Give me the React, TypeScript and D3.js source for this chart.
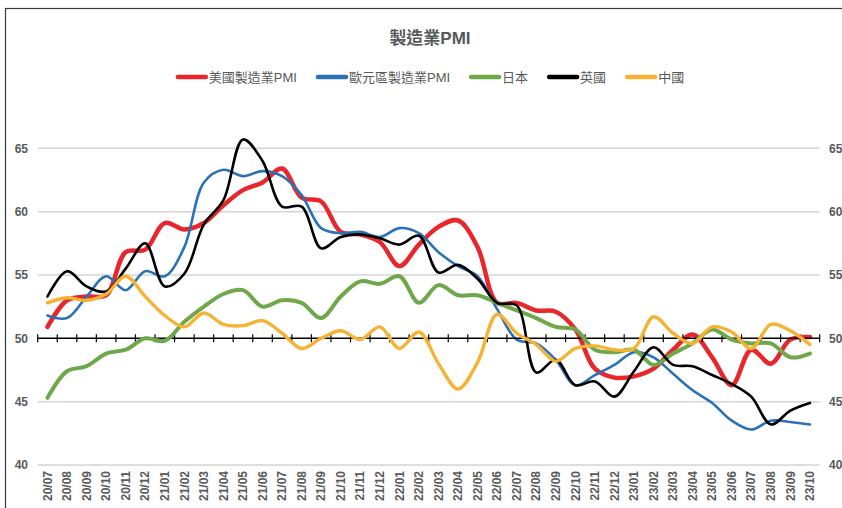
import { useEffect, useRef } from 'react';
import * as d3 from 'd3';

// month labels on the x axis
const months = [
	'20/07', '20/08', '20/09', '20/10', '20/11', '20/12',
	'21/01', '21/02', '21/03', '21/04', '21/05', '21/06', '21/07', '21/08', '21/09', '21/10', '21/11', '21/12',
	'22/01', '22/02', '22/03', '22/04', '22/05', '22/06', '22/07', '22/08', '22/09', '22/10', '22/11', '22/12',
	'23/01', '23/02', '23/03', '23/04', '23/05', '23/06', '23/07', '23/08', '23/09', '23/10'
];

const usPmi = [
	50.9, 53.0, 53.3, 53.4, 56.8, 57.0, 59.1, 58.6, 59.1, 60.5, 61.7, 62.3, 63.4, 61.1, 60.8, 58.4, 58.2, 57.6, 55.7, 57.4,
	58.8, 59.3, 57.2, 52.8, 52.8, 52.2, 52.1, 50.7, 47.6, 46.9, 47.0, 47.6, 49.1, 50.3, 48.5, 46.3, 49.1, 48.0, 49.9, 50.1
];
const euroPmi = [
	51.8, 51.6, 53.3, 54.9, 53.8, 55.3, 54.9, 57.2, 62.3, 63.3, 62.8, 63.2, 62.8, 61.3, 58.7, 58.3, 58.4, 58.0, 58.7, 58.3,
	56.8, 55.7, 54.9, 52.3, 49.9, 49.6, 48.3, 46.3, 47.1, 47.9, 48.9, 48.5, 47.2, 45.9, 44.9, 43.5, 42.8, 43.5, 43.4, 43.2
];
const japanPmi = [
	45.3, 47.4, 47.8, 48.8, 49.1, 50.0, 49.8, 51.3, 52.5, 53.5, 53.8, 52.5, 53.0, 52.8, 51.6, 53.3, 54.5, 54.3, 54.9, 52.8,
	54.2, 53.4, 53.4, 52.8, 52.2, 51.6, 50.9, 50.7, 49.1, 48.9, 49.1, 47.9, 48.8, 49.6, 50.7, 49.9, 49.6, 49.6, 48.5, 48.8
];
const ukPmi = [
	53.3, 55.3, 54.1, 53.7, 55.5, 57.5, 54.1, 55.1, 59.0, 60.9, 65.7, 64.0, 60.4, 60.4, 57.1, 58.0, 58.2, 57.9, 57.4, 58.1,
	55.2, 55.8, 54.7, 52.8, 52.6, 47.3, 48.3, 46.3, 46.6, 45.4, 47.4, 49.3, 47.9, 47.8, 47.1, 46.4, 45.4, 43.2, 44.3, 44.9
];
const chinaPmi = [
	52.8, 53.2, 53.0, 53.5, 54.9, 53.3, 51.8, 50.9, 52.0, 51.1, 51.0, 51.4, 50.4, 49.2, 50.0, 50.6, 49.9, 50.9, 49.2, 50.5,
	48.0, 46.0, 48.1, 51.9, 50.4, 49.5, 48.2, 49.2, 49.4, 49.1, 49.2, 51.7, 50.4, 49.6, 50.9, 50.5, 49.2, 51.1, 50.6, 49.5
];

const yTicks = [40, 45, 50, 55, 60, 65];

const seriesList = [
	{ name: '美國製造業PMI', values: usPmi, color: '#E8262B', width: 4.5 },
	{ name: '歐元區製造業PMI', values: euroPmi, color: '#2A72B8', width: 2.6 },
	{ name: '日本', values: japanPmi, color: '#6FA84A', width: 4 },
	{ name: '英國', values: ukPmi, color: '#000000', width: 2.6 },
	{ name: '中國', values: chinaPmi, color: '#F5B335', width: 3.4 }
];

const FONT = '"Liberation Sans", Arial, "Noto Sans CJK TC", sans-serif';
const GREY = '#595959';

export default function App() {
	const svgRef = useRef<SVGSVGElement>(null);

	useEffect(() => {
		const svg = d3.select(svgRef.current);
		svg.selectAll('*').remove();

		const width = 842;
		const height = 508;
		const plotLeft = 37.7;
		const plotRight = 819.7;

		svg.attr('width', width).attr('height', height).attr('font-family', FONT);

		svg.append('rect').attr('width', width).attr('height', height).attr('fill', '#fff');
		// chart frame (cut off at right / bottom)
		svg.append('rect')
			.attr('x', 5.5)
			.attr('y', 8.5)
			.attr('width', 880)
			.attr('height', 560)
			.attr('fill', 'none')
			.attr('stroke', '#3a3a3a')
			.attr('stroke-width', 1.2);

		const x = d3.scaleBand<string>().domain(months).range([plotLeft, plotRight]).paddingInner(0).paddingOuter(0);
		const y = d3.scaleLinear().domain([40, 65]).range([465, 148.3]);
		const cx = (m: string) => (x(m) ?? 0) + x.bandwidth() / 2;

		// gridlines
		svg.append('g')
			.selectAll('line')
			.data(yTicks.filter((t) => t !== 50))
			.join('line')
			.attr('x1', plotLeft)
			.attr('x2', plotRight)
			.attr('y1', (d) => y(d))
			.attr('y2', (d) => y(d))
			.attr('stroke', '#d4d4d4')
			.attr('stroke-width', 1.5);

		// y labels both sides
		const yLab = svg.append('g').attr('font-size', 12).attr('font-weight', 'bold').attr('fill', GREY);
		yLab.selectAll('text.l')
			.data(yTicks)
			.join('text')
			.attr('class', 'l')
			.attr('x', 28)
			.attr('y', (d) => y(d))
			.attr('dy', '0.35em')
			.attr('text-anchor', 'end')
			.text((d) => d);
		yLab.selectAll('text.r')
			.data(yTicks)
			.join('text')
			.attr('class', 'r')
			.attr('x', 829)
			.attr('y', (d) => y(d))
			.attr('dy', '0.35em')
			.attr('text-anchor', 'start')
			.text((d) => d);

		// x labels, rotated
		svg.append('g')
			.selectAll('text')
			.data(months)
			.join('text')
			.attr('transform', (d) => `translate(${cx(d)},471) rotate(-90)`)
			.attr('dy', '0.35em')
			.attr('text-anchor', 'end')
			.attr('font-size', 12)
			.attr('font-weight', 'bold')
			.attr('fill', GREY)
			.text((d) => d);

		// series lines
		const line = d3.line<number>()
			.x((_, i) => cx(months[i]))
			.y((d) => y(d))
			.curve(d3.curveCatmullRom.alpha(0.5));

		const axisY = y(50);

		seriesList.forEach((s, idx) => {
			svg.append('path')
				.datum(s.values)
				.attr('d', line)
				.attr('fill', 'none')
				.attr('stroke', s.color)
				.attr('stroke-width', s.width)
				.attr('stroke-linejoin', 'round')
				.attr('stroke-linecap', 'round');
			// axis at 50 sits between the green and black lines
			if (idx === 1) {
				const ax = svg.append('g');
				ax.append('line')
					.attr('x1', plotLeft)
					.attr('x2', plotRight)
					.attr('y1', axisY)
					.attr('y2', axisY)
					.attr('stroke', '#000')
					.attr('stroke-width', 1.5);
				const bounds = months.map((m) => x(m) ?? 0).concat([plotRight]);
				ax.selectAll('line.tick')
					.data(bounds)
					.join('line')
					.attr('class', 'tick')
					.attr('x1', (d) => d)
					.attr('x2', (d) => d)
					.attr('y1', axisY - 4)
					.attr('y2', axisY + 4)
					.attr('stroke', '#000')
					.attr('stroke-width', 1.2);
			}
		});

		// title
		svg.append('text')
			.attr('x', 430)
			.attr('y', 44)
			.attr('text-anchor', 'middle')
			.attr('font-size', 17)
			.attr('font-weight', 'bold')
			.attr('fill', GREY)
			.text('製造業PMI');

		// legend
		const legend = svg.append('g');
		const items = seriesList.map((s) => {
			const g = legend.append('g');
			g.append('line')
				.attr('x1', 0)
				.attr('x2', 28)
				.attr('y1', 0)
				.attr('y2', 0)
				.attr('stroke', s.color)
				.attr('stroke-width', 4.5)
				.attr('stroke-linecap', 'round');
			const t = g.append('text')
				.attr('x', 31)
				.attr('y', 0)
				.attr('dy', '0.35em')
				.attr('font-size', 13)
				.attr('fill', GREY)
				.text(s.name);
			const w = 31 + ((t.node() as SVGTextElement).getComputedTextLength?.() ?? 60);
			return { g, w };
		});
		const gap = 21;
		const total = d3.sum(items, (d) => d.w) + gap * (items.length - 1);
		let pos = 431 - total / 2;
		items.forEach((it) => {
			it.g.attr('transform', `translate(${pos},77)`);
			pos += it.w + gap;
		});

		return () => {
			svg.selectAll('*').remove();
		};
	}, []);

	return (
		<div style={{ position: 'absolute', left: 0, top: 0 }}>
			<svg ref={svgRef} style={{ display: 'block' }} />
		</div>
	);
}
